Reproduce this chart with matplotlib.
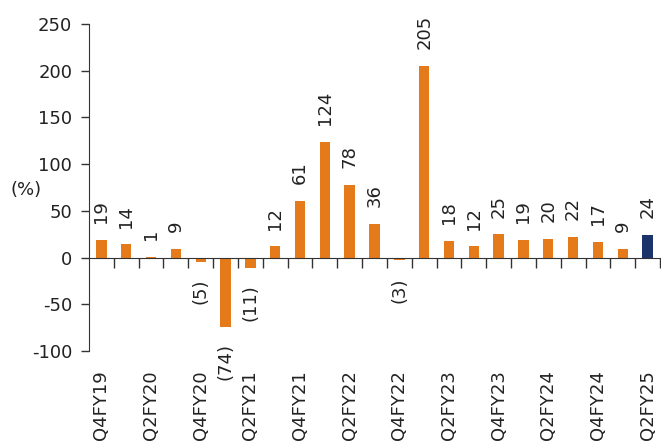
import matplotlib
matplotlib.use("Agg")
import matplotlib.pyplot as plt
import matplotlib.transforms as mtransforms
import numpy as np

# quarterly growth, % yoy
quarters = ["Q4FY19", "Q1FY20", "Q2FY20", "Q3FY20", "Q4FY20", "Q1FY21", "Q2FY21",
            "Q3FY21", "Q4FY21", "Q1FY22", "Q2FY22", "Q3FY22", "Q4FY22", "Q1FY23",
            "Q2FY23", "Q3FY23", "Q4FY23", "Q1FY24", "Q2FY24", "Q3FY24", "Q4FY24",
            "Q1FY25", "Q2FY25"]
growth = [19, 14, 1, 9, -5, -74, -11, 12, 61, 124, 78, 36, -3, 205,
          18, 12, 25, 19, 20, 22, 17, 9, 24]
yticks = [-100, -50, 0, 50, 100, 150, 200, 250]

orange = "#E57A1B"
navy = "#1D346A"

plt.rcParams['font.family'] = ['DejaVu Sans']
plt.rcParams['axes.unicode_minus'] = False

fig = plt.figure(figsize=(6.61, 4.48), dpi=100)
ax = fig.add_axes([89/661, 1 - 351/448, 1 - 89/661 - 1/661, (351 - 24)/448])

x = np.arange(len(quarters))
colors = [orange] * (len(quarters) - 1) + [navy]
ax.bar(x, growth, width=0.42, color=colors, zorder=2)

ax.set_xlim(-0.5, len(quarters) - 0.5)
ax.set_ylim(-100, 250)
ax.set_yticks(yticks)
ax.tick_params(axis='y', direction='out', length=6, width=1, labelsize=13, pad=6,
               color="#333333", labelcolor="#222222")

# x axis sits on zero, ticks between the bars
ax.spines['top'].set_visible(False)
ax.spines['right'].set_visible(False)
ax.spines['bottom'].set_position(('data', 0))
ax.spines['left'].set_color("#333333")
ax.spines['bottom'].set_color("#333333")
ax.set_xticks(x + 0.5)
ax.set_xticklabels([])
ax.tick_params(axis='x', direction='out', length=7, width=1, color="#333333")

# value labels
for xi, v in zip(x, growth):
    txt = str(v) if v >= 0 else "(%d)" % abs(v)
    if v >= 0:
        ax.annotate(txt, (xi, v), xytext=(0, 12), textcoords='offset points',
                    rotation=90, ha='center', va='bottom', fontsize=13, color="#222222")
    else:
        ax.annotate(txt, (xi, v), xytext=(0, -12), textcoords='offset points',
                    rotation=90, ha='center', va='top', fontsize=13, color="#222222")

# category labels at the bottom, every other quarter
trans = mtransforms.blended_transform_factory(ax.transData, ax.transAxes)
for xi in x[::2]:
    ax.annotate(quarters[xi], (xi, 0), xycoords=trans, xytext=(0, -14),
                textcoords='offset points', rotation=90, ha='center', va='top',
                fontsize=13, color="#222222")

fig.text(10/661, 1 - 190/448, "(%)", fontsize=13, va='center', ha='left', color="#222222")

fig.savefig("out.png", dpi=100)
